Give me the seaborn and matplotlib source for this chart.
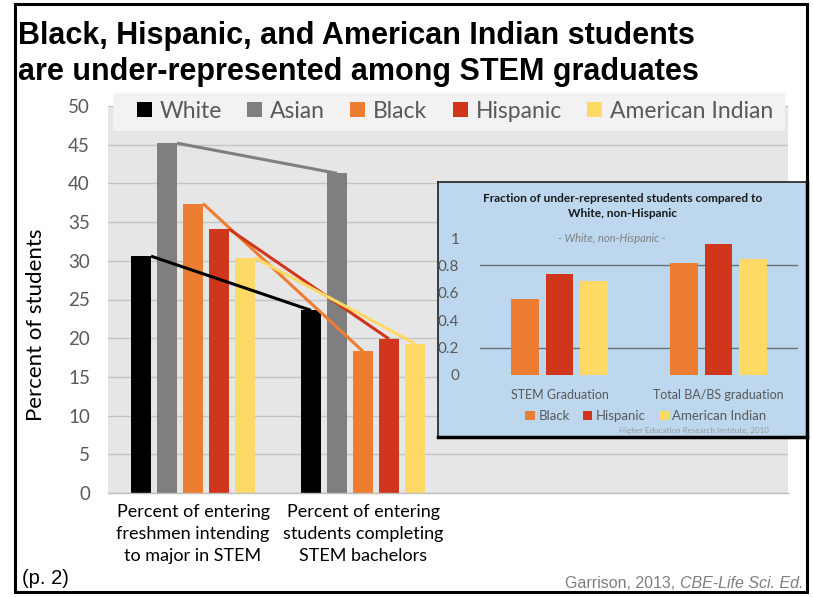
import matplotlib
matplotlib.use("Agg")
import matplotlib.pyplot as plt
import seaborn as sns
import pandas as pd
from matplotlib.patches import Rectangle

# ---------------- data ----------------
groups = ["White", "Asian", "Black", "Hispanic", "American Indian"]
main_categories = ["Percent of entering\nfreshmen intending\nto major in STEM",
                   "Percent of entering\nstudents completing\nSTEM bachelors",
                   "blank1", "blank2"]
intending = [30.6, 45.2, 37.4, 34.1, 30.4]
completing = [23.6, 41.3, 18.3, 19.9, 19.3]
main_colors = ["#000000", "#7f7f7f", "#ed7d31", "#d0361b", "#ffd966"]

inset_groups = ["Black", "Hispanic", "American Indian"]
inset_categories = ["STEM Graduation", "Total BA/BS graduation"]
stem_fraction = [0.555, 0.737, 0.686]
total_fraction = [0.818, 0.956, 0.847]
inset_colors = ["#ed7d31", "#d0361b", "#ffd966"]

main_yticks = [0, 5, 10, 15, 20, 25, 30, 35, 40, 45, 50]
inset_yticks = [0, 0.2, 0.4, 0.6, 0.8, 1]

df_main = pd.DataFrame({
    "category": [main_categories[0]] * 5 + [main_categories[1]] * 5,
    "group": groups * 2,
    "value": intending + completing,
})
df_inset = pd.DataFrame({
    "category": [inset_categories[0]] * 3 + [inset_categories[1]] * 3,
    "group": inset_groups * 2,
    "value": stem_fraction + total_fraction,
})

# ---------------- figure ----------------
sns.set_theme(style="white")
plt.rcParams["font.family"] = ["Lato", "DejaVu Sans"]

W, H = 813, 597
fig = plt.figure(figsize=(W / 100, H / 100), dpi=100)
fig.patch.set_facecolor("white")

def fx(px):
    return px / W

def fy(py):
    return 1 - py / H

# main axes
ax = fig.add_axes([fx(108), fy(493), (788 - 108) / W, (493 - 106) / H])
ax.set_facecolor("#e6e6e6")
sns.barplot(data=df_main, x="category", y="value", hue="group",
            order=main_categories, hue_order=groups, palette=main_colors,
            width=0.765, gap=0.23, saturation=1, ax=ax, legend=True,
            linewidth=0)
ax.set_xlim(-0.5, 3.5)
ax.set_ylim(0, 50)
ax.set_yticks(main_yticks)
ax.set_yticklabels([str(t) for t in main_yticks], fontsize=13.5, color="#595959")
ax.set_xticks(range(len(main_categories)))
ax.set_xticklabels([c if not c.startswith("blank") else "" for c in main_categories],
                   fontsize=13, color="black", linespacing=1.45)
ax.tick_params(axis="y", length=0, pad=13)
ax.tick_params(axis="x", length=0, pad=8)
ax.set_axisbelow(True)
ax.yaxis.grid(True, color="#c4c4c4", linewidth=1)
for s in ["top", "right", "left"]:
    ax.spines[s].set_visible(False)
ax.spines["bottom"].set_color("#bfbfbf")
ax.spines["bottom"].set_linewidth(1)
ax.set_xlabel("")
ax.set_ylabel("Percent of students", fontsize=16, color="black")
ax.yaxis.set_label_coords((46 - 108) / 680, (493 - 325) / 387)

# connecting lines (from bar patches)
line_colors = ["#000000", "#7f7f7f", "#ed7d31", "#d0361b", "#ffd966"]
for i, cont in enumerate(ax.containers):
    bars = [b for b in cont if b.get_height() > 0]
    if len(bars) >= 2:
        b1, b2 = bars[0], bars[1]
        x1 = b1.get_x() + b1.get_width()
        x2 = b2.get_x() + b2.get_width() * 0.5
        ax.plot([x1, x2], [b1.get_height(), b2.get_height()],
                color=line_colors[i], linewidth=2.2, zorder=3,
                solid_capstyle="butt")

# legend with light background
ax.add_patch(Rectangle(((113 - 108) / 680, (493 - 131) / 387), 672 / 680, 38 / 387,
                       transform=ax.transAxes, facecolor="#f2f2f2",
                       edgecolor="none", clip_on=False, zorder=4))
sns.move_legend(ax, loc="center", bbox_to_anchor=(fx(455), fy(111)),
                bbox_transform=fig.transFigure, ncol=5, frameon=False,
                title=None, fontsize=16.5, handlelength=0.65, handleheight=0.65,
                handletextpad=0.35, columnspacing=1.1, labelcolor="#595959")
ax.get_legend().set_zorder(6)

# ---------------- inset ----------------
panel = fig.add_axes([fx(438), fy(437), (807 - 438) / W, (437 - 182) / H])
panel.set_zorder(5)
panel.set_facecolor("#bdd7ee")
panel.set_xticks([])
panel.set_yticks([])
for s in ["top", "left"]:
    panel.spines[s].set_color("#202020")
    panel.spines[s].set_linewidth(1.2)
for s in ["right", "bottom"]:
    panel.spines[s].set_color("black")
    panel.spines[s].set_linewidth(2.5)

iax = fig.add_axes([fx(480), fy(375), (798 - 480) / W, (375 - 238) / H])
iax.set_zorder(6)
iax.patch.set_alpha(0)
for yv in [0.2, 0.8]:
    iax.axhline(yv, color="#6f6f6f", linewidth=1, zorder=0)
sns.barplot(data=df_inset, x="category", y="value", hue="group",
            order=inset_categories, hue_order=inset_groups, palette=inset_colors,
            width=0.66, gap=0.2, saturation=1, ax=iax, legend=True, linewidth=0)
iax.set_xlim(-0.5, 1.5)
iax.set_ylim(0, 1)
iax.set_yticks(inset_yticks)
iax.set_yticklabels(["0", "0.2", "0.4", "0.6", "0.8", "1"], fontsize=11, color="#595959")
iax.tick_params(axis="y", length=0, pad=15)
iax.tick_params(axis="x", length=0, pad=10, labelsize=9, labelcolor="#595959")
for s in iax.spines.values():
    s.set_visible(False)
iax.set_xlabel("")
iax.set_ylabel("")
sns.move_legend(iax, loc="center", bbox_to_anchor=(fx(646), fy(416)),
                bbox_transform=fig.transFigure, ncol=3, frameon=False,
                title=None, fontsize=9.5, handlelength=0.7, handleheight=0.7,
                handletextpad=0.3, columnspacing=1.0, labelcolor="#595959")

fig.text(fx(623), fy(206), "Fraction of under-represented students compared to\nWhite, non-Hispanic",
         ha="center", va="center", fontsize=8.6, fontweight="bold", color="#1a1a1a",
         linespacing=1.4, zorder=10)
fig.text(fx(612), fy(238), "- White, non-Hispanic -", ha="center", va="center",
         fontsize=8, style="italic", color="#7f7f7f", zorder=10)
fig.text(fx(694), fy(430), "Higher Education Research Institute, 2010", ha="center",
         va="center", fontsize=5.8, color="#9a9a9a", zorder=10)

# ---------------- titles & notes ----------------
fig.text(fx(18), fy(44), "Black, Hispanic, and American Indian students",
         family=["Liberation Sans", "DejaVu Sans"], fontweight="bold", fontsize=22,
         ha="left", va="baseline", color="black")
fig.text(fx(18), fy(80), "are under-represented among STEM graduates",
         family=["Liberation Sans", "DejaVu Sans"], fontweight="bold", fontsize=22,
         ha="left", va="baseline", color="black")
fig.text(fx(22), fy(578), "(p. 2)", family=["Liberation Sans", "DejaVu Sans"],
         fontsize=14.5, ha="left", va="center", color="black")

t_it = fig.text(fx(803), fy(583), "CBE-Life Sci. Ed.", family=["Liberation Sans", "DejaVu Sans"],
                style="italic", fontsize=11.5, ha="right", va="center", color="#7f7f7f")
renderer = fig.canvas.get_renderer()
bb = t_it.get_window_extent(renderer)
fig.text(bb.x0 / W, fy(583), "Garrison, 2013, ", family=["Liberation Sans", "DejaVu Sans"],
         fontsize=11.5, ha="right", va="center", color="#7f7f7f")

# outer border
fig.patches.append(Rectangle((fx(15), fy(592)), (807 - 15) / W, (592 - 4) / H,
                             transform=fig.transFigure, fill=False,
                             edgecolor="black", linewidth=2.2, zorder=20))

fig.savefig("out.png", dpi=100)
